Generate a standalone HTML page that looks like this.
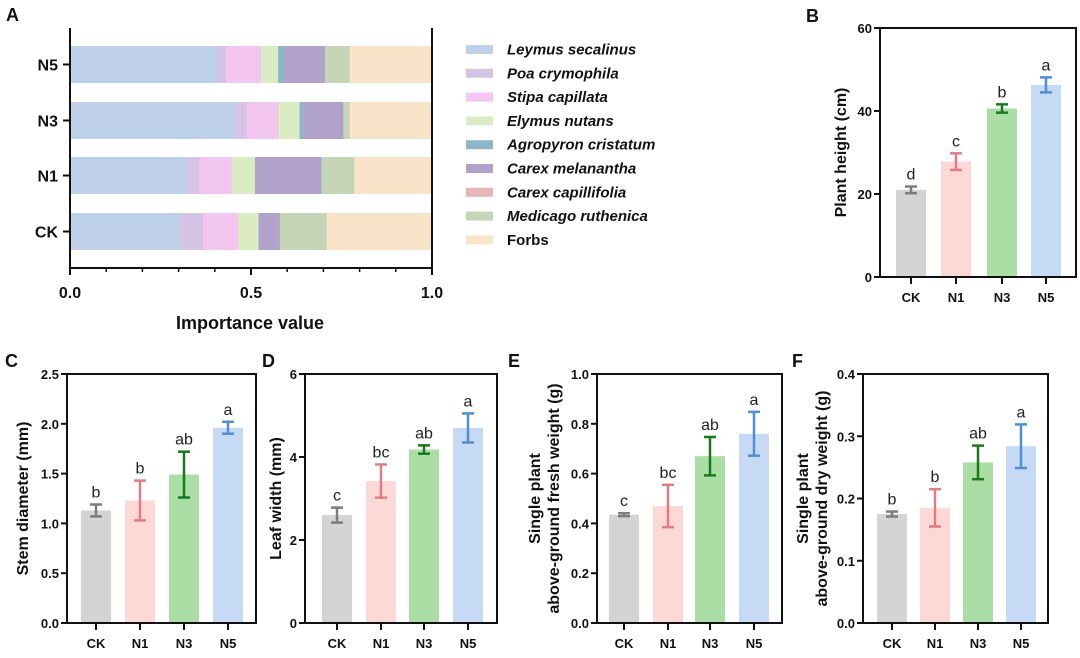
<!DOCTYPE html>
<html><head><meta charset="utf-8"><style>
html,body{margin:0;padding:0;background:#fff;}
svg{display:block;font-family:"Liberation Sans",Arial,sans-serif;}
</style></head><body>
<svg id="fig" width="1080" height="658" viewBox="0 0 1080 658" xmlns="http://www.w3.org/2000/svg"></svg>
<script>
// Panel A data
const groupsA = ["CK","N1","N3","N5"];
const speciesA = ["Leymus secalinus","Poa crymophila","Stipa capillata","Elymus nutans","Agropyron cristatum","Carex melanantha","Carex capillifolia","Medicago ruthenica","Forbs"];
const valsCK = [0.304,0.063,0.098,0.056,0.0,0.059,0.0,0.129,0.291];
const valsN1 = [0.322,0.035,0.090,0.064,0.0,0.184,0.0,0.090,0.215];
const valsN3 = [0.456,0.032,0.088,0.058,0.011,0.110,0.0,0.018,0.227];
const valsN5 = [0.405,0.026,0.097,0.047,0.017,0.112,0.0,0.069,0.227];
const xTicksA = [0,0.5,1];
const xTickLabelsA = ["0.0","0.5","1.0"];
// Bar panels data
const cats = ["CK","N1","N3","N5"];
const heightVals = [21.0,27.8,40.6,46.3];
const heightErr = [0.8,2.0,1.0,1.8];
const heightLetters = ["d","c","b","a"];
const stemVals = [1.13,1.23,1.49,1.96];
const stemErr = [0.06,0.2,0.23,0.06];
const stemLetters = ["b","b","ab","a"];
const leafVals = [2.6,3.42,4.18,4.7];
const leafErr = [0.18,0.4,0.1,0.35];
const leafLetters = ["c","bc","ab","a"];
const freshVals = [0.435,0.47,0.67,0.76];
const freshErr = [0.006,0.085,0.077,0.088];
const freshLetters = ["c","bc","ab","a"];
const dryVals = [0.175,0.185,0.258,0.284];
const dryErr = [0.004,0.03,0.027,0.035];
const dryLetters = ["b","b","ab","a"];
const heightTicks = [0,20,40,60];
const stemTicks = [0,0.5,1.0,1.5,2.0,2.5];
const leafTicks = [0,2,4,6];
const freshTicks = [0,0.2,0.4,0.6,0.8,1.0];
const dryTicks = [0,0.1,0.2,0.3,0.4];

const svg = document.getElementById('fig');
const NS = "http://www.w3.org/2000/svg";
function mk(tag, attrs, parent, text){
  const e = document.createElementNS(NS, tag);
  for (const k in attrs) e.setAttribute(k, attrs[k]);
  if (text !== undefined) e.textContent = text;
  (parent||svg).appendChild(e);
  return e;
}
const spColors = ["#bfd0e9","#d5c4e6","#f3c6ef","#dcecc2","#8db6c9","#b1a2cc","#e8b5b9","#c6d4b8","#f8e4c8"];

// Panel A
(function(){
  const g = mk('g',{});
  
  
  const L=70,R=432,T=28,B=268;
  const xs = v => L + v*(R-L);
  const rows = {"N5":[46,83],"N3":[102,139],"N1":[157,194],"CK":[213,250]};
  const allVals = {"CK":valsCK,"N1":valsN1,"N3":valsN3,"N5":valsN5};
  groupsA.forEach(gr=>{
    let acc=0;
    const [y0,y1]=rows[gr];
    allVals[gr].forEach((v,i)=>{
      if(v>0){
        const r = mk('rect',{x:xs(acc),y:y0,width:xs(acc+v)-xs(acc)+0.5,height:y1-y0,fill:spColors[i]},g);
        
        
      }
      acc+=v;
    });
    mk('line',{x1:L-7,x2:L,y1:(y0+y1)/2,y2:(y0+y1)/2,stroke:'#111','stroke-width':2},g);
    const t = mk('text',{x:L-12,y:(y0+y1)/2+6,'text-anchor':'end','font-size':16,'font-weight':'bold',fill:'#111'},g,gr);
    
    
  });
  mk('path',{d:`M${L} ${T} V${B} H${R} V${T}`,fill:'none',stroke:'#111','stroke-width':2},g);
  xTicksA.forEach((v,i)=>{
    mk('line',{x1:xs(v),x2:xs(v),y1:B,y2:B+7,stroke:'#111','stroke-width':2},g);
    mk('text',{x:xs(v),y:B+30,'text-anchor':'middle','font-size':16,'font-weight':'bold',fill:'#111'},g,xTickLabelsA[i]);
  });
  for(let v=0.1;v<1;v+=0.1){ if(Math.abs(v-0.5)>0.01) mk('line',{x1:xs(v),x2:xs(v),y1:B,y2:B+4,stroke:'#111','stroke-width':1.5},g); }
  const xt = mk('text',{x:250,y:329,'text-anchor':'middle','font-size':18,'font-weight':'bold',fill:'#111'},g,'Importance value');
  
  
  speciesA.forEach((s,i)=>{
    const y = 49 + i*23.8;
    const le = mk('g',{},g);
    
    
    mk('rect',{x:466,y:y-4,width:27,height:9,fill:spColors[i]},le);
    mk('text',{x:507,y:y+5.5,'font-size':15,'font-weight':'bold','font-style':i<8?'italic':'normal',fill:'#111'},le,s);
  });
  mk('text',{x:6,y:21,'font-size':18,'font-weight':'bold',fill:'#111'},g,'A');
})();

const barFill = ["#d4d4d4","#fcd8d6","#aadea4","#c6daf5"];
const errCol = ["#7d7d7d","#e17c84","#197a1d","#4f8fd6"];

function barPanel(o){
  const g = mk('g',{});
  
  
  const {L,R,T,B,max,vals,errs,letters,ticks,centers} = o;
  const ys = v => B - v/max*(B-T);
  vals.forEach((v,i)=>{
    const cx = centers[i];
    const r = mk('rect',{x:cx-15,y:ys(v),width:30,height:B-ys(v),fill:barFill[i]},g);
    
    
    const hi=ys(v+errs[i]), lo=ys(v-errs[i]);
    const eg = mk('g',{stroke:errCol[i],'stroke-width':2.5},g);
    
    
    mk('line',{x1:cx,x2:cx,y1:hi,y2:lo},eg);
    mk('line',{x1:cx-6,x2:cx+6,y1:hi,y2:hi},eg);
    mk('line',{x1:cx-6,x2:cx+6,y1:lo,y2:lo},eg);
    mk('text',{x:cx,y:hi-7,'text-anchor':'middle','font-size':16,fill:'#222'},g,letters[i]);
    mk('line',{x1:cx,x2:cx,y1:B,y2:B+7,stroke:'#111','stroke-width':2},g);
    mk('text',{x:cx,y:B+25,'text-anchor':'middle','font-size':13,'font-weight':'bold',fill:'#111'},g,cats[i]);
  });
  mk('rect',{x:L,y:T,width:R-L,height:B-T,fill:'none',stroke:'#111','stroke-width':2},g);
  ticks.forEach(t=>{
    mk('line',{x1:L-6,x2:L,y1:ys(t),y2:ys(t),stroke:'#111','stroke-width':2},g);
    mk('text',{x:L-8,y:ys(t)+5,'text-anchor':'end','font-size':13,'font-weight':'bold',fill:'#111'},g,o.fmt(t));
  });
  const cy=(T+B)/2;
  o.title.forEach((line,k)=>{
    const tx = o.titleX + k*19;
    const t = mk('text',{x:tx,y:cy,'text-anchor':'middle','font-size':16,'font-weight':'bold',fill:'#111',transform:`rotate(-90 ${tx} ${cy})`},g,line);
    
    
  });
  mk('text',{x:o.labX,y:o.labY,'font-size':18,'font-weight':'bold',fill:'#111'},g,o.label);
}
const f0=v=>String(v), f1=v=>v.toFixed(1);
barPanel({name:'panel-b',L:880,R:1076,T:28,B:277,max:60,vals:heightVals,errs:heightErr,letters:heightLetters,ticks:heightTicks,centers:[911,956,1002,1046],fmt:f0,title:['Plant height (cm)'],titleX:846,label:'B',labX:806,labY:22});
barPanel({name:'panel-c',L:67,R:256,T:374,B:623,max:2.5,vals:stemVals,errs:stemErr,letters:stemLetters,ticks:stemTicks,centers:[96,140,184,228],fmt:f1,title:['Stem diameter (mm)'],titleX:28,label:'C',labX:5,labY:367});
barPanel({name:'panel-d',L:305,R:497,T:374,B:623,max:6,vals:leafVals,errs:leafErr,letters:leafLetters,ticks:leafTicks,centers:[337,381,424,468],fmt:f0,title:['Leaf width (mm)'],titleX:281,label:'D',labX:262,labY:367});
barPanel({name:'panel-e',L:597,R:782,T:374,B:623,max:1.0,vals:freshVals,errs:freshErr,letters:freshLetters,ticks:freshTicks,centers:[624,668,710,754],fmt:f1,title:['Single plant','above-ground fresh weight (g)'],titleX:540,label:'E',labX:508,labY:367});
barPanel({name:'panel-f',L:863,R:1048,T:374,B:623,max:0.4,vals:dryVals,errs:dryErr,letters:dryLetters,ticks:dryTicks,centers:[892,935,978,1021],fmt:f1,title:['Single plant','above-ground dry weight (g)'],titleX:808,label:'F',labX:792,labY:367});
</script>
</body></html>
